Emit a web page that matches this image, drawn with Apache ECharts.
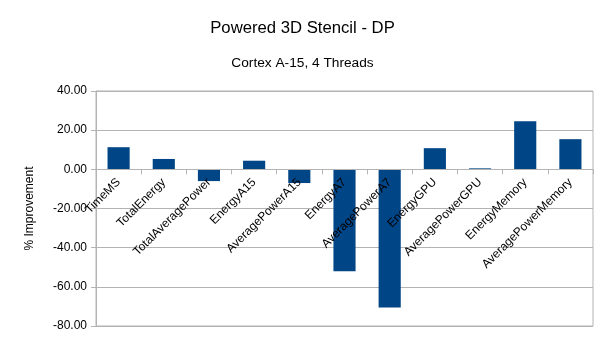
<!DOCTYPE html>
<html>
<head>
<meta charset="utf-8">
<script src="https://cdn.jsdelivr.net/npm/echarts@6/dist/echarts.min.js"></script>
<style>
html,body{margin:0;padding:0;background:#fff;}
#chart{width:605px;height:340px;}
</style>
</head>
<body>
<div id="chart"></div>
<script>
const categories = ["TimeMS","TotalEnergy","TotalAveragePower","EnergyA15","AveragePowerA15","EnergyA7","AveragePowerA7","EnergyGPU","AveragePowerGPU","EnergyMemory","AveragePowerMemory"];
const improvement = [11.3, 5.3, -6.0, 4.4, -7.0, -52.0, -70.5, 10.8, 0.5, 24.6, 15.4];
const yTicks = {min: -80, max: 40, interval: 20};

const font = '"Liberation Sans", Arial, sans-serif';
const W = 605, H = 340;
const gridBox = {left: 96, right: 12, top: 91, bottom: 14};
const plotH = H - gridBox.top - gridBox.bottom;
// place the category axis at the value 0 line
const zeroOffset = -plotH * (0 - yTicks.min) / (yTicks.max - yTicks.min);

const chart = echarts.init(document.getElementById('chart'), null, {renderer: 'canvas'});
chart.setOption({
  animation: false,
  backgroundColor: '#ffffff',
  title: [
    {text: 'Powered 3D Stencil - DP', left: 'center', top: 14.5,
     textStyle: {fontFamily: font, fontSize: 16.7, fontWeight: 'normal', color: '#000'}},
    {text: 'Cortex A-15, 4 Threads', left: 'center', top: 51,
     textStyle: {fontFamily: font, fontSize: 13.7, fontWeight: 'normal', color: '#000'}}
  ],
  grid: Object.assign({containLabel: false, outerBoundsMode: 'none',
         show: true, borderColor: '#b3b3b3', borderWidth: 1}, gridBox),
  xAxis: {
    type: 'category',
    data: categories,
    offset: zeroOffset,
    z: 5,
    axisLine: {show: true, onZero: false, lineStyle: {color: '#b3b3b3'}},
    axisTick: {show: true, length: 5, lineStyle: {color: '#b3b3b3'}},
    axisLabel: {rotate: 45, interval: 0, margin: 11, color: '#000', fontFamily: font, fontSize: 12}
  },
  yAxis: {
    type: 'value',
    min: yTicks.min, max: yTicks.max, interval: yTicks.interval,
    name: '% Improvement', nameLocation: 'middle', nameGap: 60,
    nameTextStyle: {fontFamily: font, fontSize: 12, color: '#000'},
    axisLine: {show: true, lineStyle: {color: '#b3b3b3'}},
    axisTick: {show: true, length: 5, lineStyle: {color: '#b3b3b3'}},
    axisLabel: {margin: 9, color: '#000', fontFamily: font, fontSize: 12,
                formatter: v => v.toFixed(2)},
    splitLine: {lineStyle: {color: '#b3b3b3'}}
  },
  series: [{
    type: 'bar',
    data: improvement,
    barWidth: '49%',
    itemStyle: {color: '#004586'}
  }]
});
</script>
</body>
</html>
